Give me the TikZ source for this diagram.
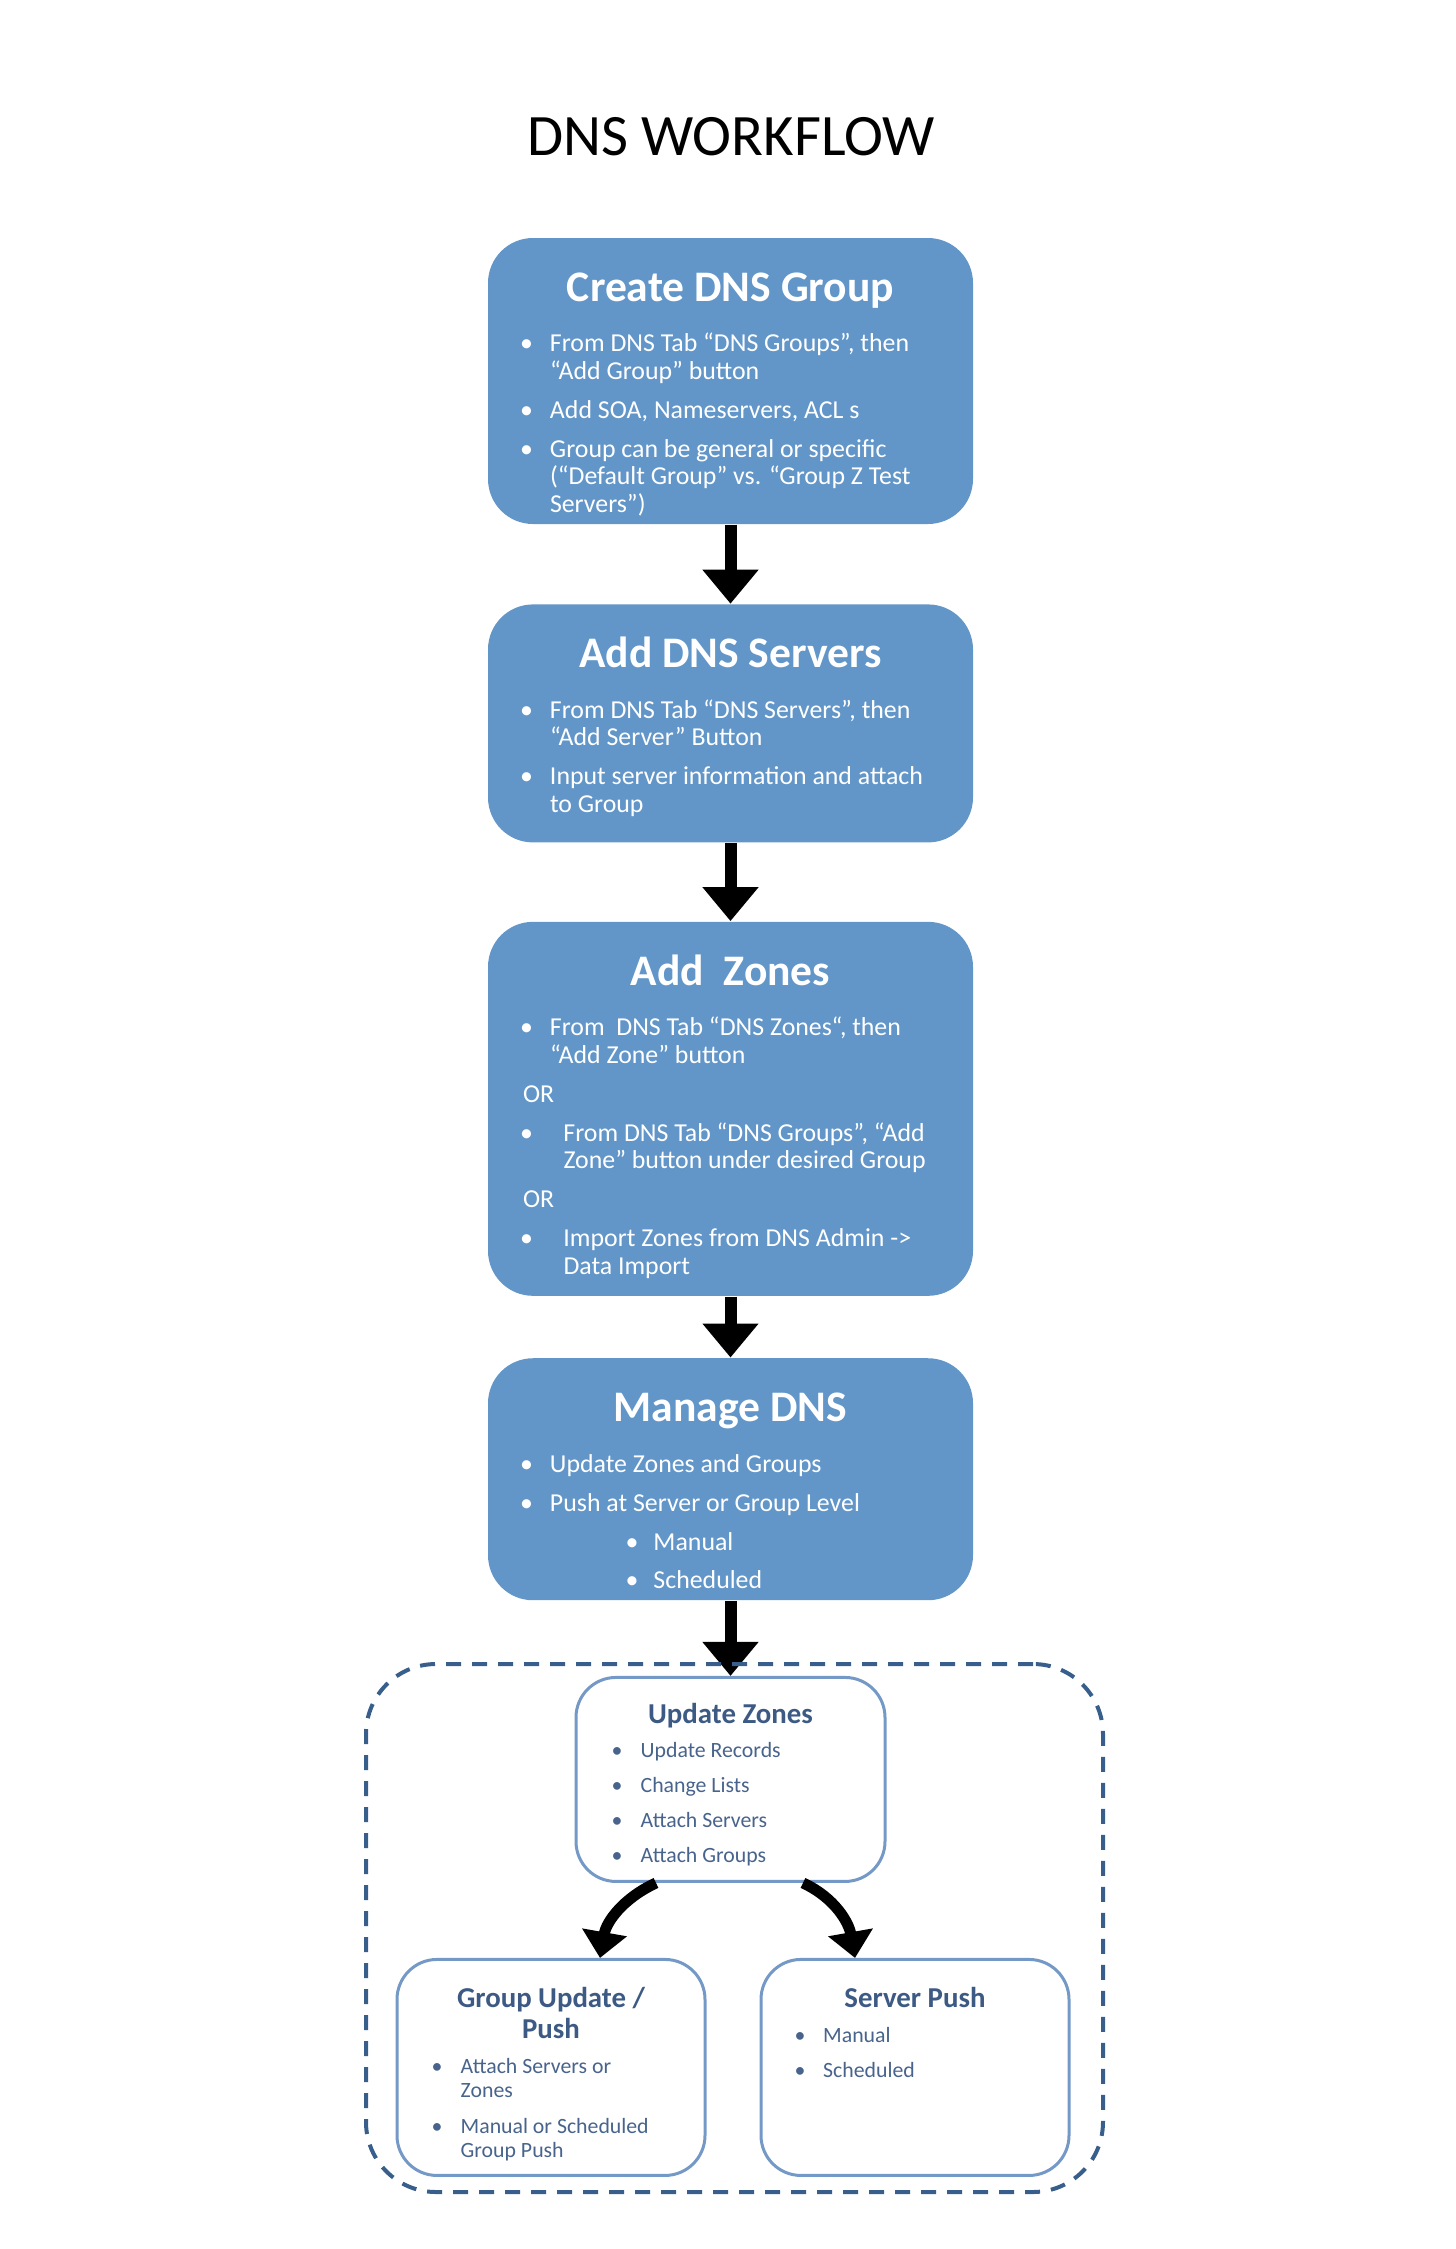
\documentclass[tikz,border=0pt]{standalone}
\usepackage{fontspec}
\setmainfont{Carlito}
\usetikzlibrary{arrows.meta,positioning}
\definecolor{boxblue}{RGB}{98,150,201}
\definecolor{lineblue}{RGB}{116,153,198}
\definecolor{dashblue}{RGB}{56,94,140}
\definecolor{headblue}{RGB}{60,90,132}
\definecolor{itemblue}{RGB}{72,100,140}
\newcommand\bul[1][3.0mm]{\makebox[#1][l]{•}}
\newcommand\cont[1][3.0mm]{\hspace*{#1}}
\tikzset
{
    stepnode/.style = {rectangle, rounded corners=4.5mm, fill=boxblue, minimum width=48.5mm, inner sep=0pt},
    stephead/.style = {anchor=base, inner sep=0pt, text=white, font=\fontsize{12.4}{14}\selectfont\bfseries},
    steptext/.style = {anchor=base west, inner sep=0pt, text=white, font=\fontsize{7.35}{7.82}\selectfont},
    subnode/.style  = {rectangle, rounded corners=4mm, draw=lineblue, line width=0.3mm, fill=white, minimum width=30.8mm, minimum height=21.6mm, inner sep=0pt},
    subhead/.style  = {anchor=base, inner sep=0pt, text=headblue, font=\fontsize{8.2}{8.8}\selectfont\bfseries},
    subtext/.style  = {anchor=base west, inner sep=0pt, text=itemblue, font=\fontsize{6.2}{6.83}\selectfont},
    groupbox/.style = {rectangle, rounded corners=7mm, draw=dashblue, line width=0.4mm, dash pattern=on 1.5mm off 1.1mm, minimum width=73.7mm, minimum height=52.8mm},
    flowarrow/.style = {line width=1.2mm, -{Triangle[width=5.4mm, length=3.4mm]}},
    bentarrow/.style = {line width=1.1mm, -{Triangle[width=4.4mm, length=2.6mm]}}
}

\begin{document}
\begin{tikzpicture}[x=1mm, y=1mm]
   \newcommand\HEADDY{6.4mm}
   \newcommand\TEXTDY{11.45mm}
   \newcommand\TEXTDX{3.2mm}
   \newcommand\GAP{1.15mm}
   \newcommand\SUBGAP{1.1mm}

   \useasboundingbox (0,0) rectangle (145.5,-224.9);

   \node (title) [anchor=base, font=\fontsize{16.7}{20}\selectfont] at (73.1,-15.5) {DNS WORKFLOW};

   % main steps
   \node (b1) [stepnode, minimum height=28.6mm]    at (73.05,-38.1) {};
   \node (b2) [stepnode, minimum height=23.8mm, below=7.9mm of b1] {};
   \node (b3) [stepnode, minimum height=37.4mm, below=7.8mm of b2] {};
   \node (b4) [stepnode, minimum height=24.2mm, below=6.1mm of b3] {};

   \node (h1) [stephead] at ([yshift=-\HEADDY]b1.north) {Create DNS Group};
   \node (t1) [steptext] at ([shift=({\TEXTDX,-\TEXTDY})]b1.north west) {\begin{tabular}[t]{@{}l@{}}
      \bul From DNS Tab “DNS Groups”, then\\
      \cont “Add Group” button\\[\GAP]
      \bul Add SOA, Nameservers, ACL s\\[\GAP]
      \bul Group can be general or specific\\
      \cont (“Default Group” vs. “Group Z Test\\
      \cont Servers”)
   \end{tabular}};

   \node (h2) [stephead] at ([yshift=-\HEADDY]b2.north) {Add DNS Servers};
   \node (t2) [steptext] at ([shift=({\TEXTDX,-\TEXTDY})]b2.north west) {\begin{tabular}[t]{@{}l@{}}
      \bul From DNS Tab “DNS Servers”, then\\
      \cont “Add Server” Button\\[\GAP]
      \bul Input server information and attach\\
      \cont to Group
   \end{tabular}};

   \node (h3) [stephead] at ([yshift=-\HEADDY]b3.north) {Add~~Zones};
   \node (t3) [steptext] at ([shift=({\TEXTDX,-\TEXTDY})]b3.north west) {\begin{tabular}[t]{@{}l@{}}
      \bul From~~DNS Tab “DNS Zones“, then\\
      \cont “Add Zone” button\\[\GAP]
      \hspace*{0.3mm}OR\\[\GAP]
      \bul[4.35mm]From DNS Tab “DNS Groups”, “Add\\
      \cont[4.35mm]Zone” button under desired Group\\[\GAP]
      \hspace*{0.3mm}OR\\[\GAP]
      \bul[4.35mm]Import Zones from DNS Admin ->\\
      \cont[4.35mm]Data Import
   \end{tabular}};

   \node (h4) [stephead] at ([yshift=-\HEADDY]b4.north) {Manage DNS};
   \node (t4) [steptext] at ([shift=({\TEXTDX,-\TEXTDY})]b4.north west) {\begin{tabular}[t]{@{}l@{}}
      \bul Update Zones and Groups\\[\GAP]
      \bul Push at Server or Group Level\\[\GAP]
      \hspace*{10.55mm}\bul[2.8mm]Manual\\[\GAP]
      \hspace*{10.55mm}\bul[2.8mm]Scheduled
   \end{tabular}};

   % push options
   \node (uz) [subnode, minimum width=30.9mm, minimum height=20.4mm, below=7.5mm of b4] {};
   \node (gu) [subnode, anchor=north] at ([shift=({-17.95mm,-7.5mm})]uz.south) {};
   \node (sp) [subnode, anchor=north] at ([shift=({18.45mm,-7.5mm})]uz.south) {};

   \node (uzh) [subhead] at ([yshift=-4.8mm]uz.north) {Update Zones};
   \node (uzt) [subtext] at ([shift=({3.65mm,-8.2mm})]uz.north west) {\begin{tabular}[t]{@{}l@{}}
      \bul[2.9mm]Update Records\\[\SUBGAP]
      \bul[2.9mm]Change Lists\\[\SUBGAP]
      \bul[2.9mm]Attach Servers\\[\SUBGAP]
      \bul[2.9mm]Attach Groups
   \end{tabular}};

   \node (guh) [subhead] at ([yshift=-5mm]gu.north) {\begin{tabular}[t]{@{}c@{}}
      Group Update /\\
      Push
   \end{tabular}};
   \node (gut) [subtext] at ([shift=({3.55mm,-11.6mm})]gu.north west) {\begin{tabular}[t]{@{}l@{}}
      \bul[2.9mm]Attach Servers or\\
      \cont[2.9mm]Zones\\[1.2mm]
      \bul[2.9mm]Manual or Scheduled\\
      \cont[2.9mm]Group Push
   \end{tabular}};

   \node (sph) [subhead] at ([yshift=-5mm]sp.north) {Server Push};
   \node (spt) [subtext] at ([shift=({3.45mm,-8.5mm})]sp.north west) {\begin{tabular}[t]{@{}l@{}}
      \bul[2.85mm]Manual\\[\SUBGAP]
      \bul[2.85mm]Scheduled
   \end{tabular}};

   \path
      (b1.south) edge[flowarrow] (b2.north)
      (b2.south) edge[flowarrow] (b3.north)
      (b3.south) edge[flowarrow] (b4.north)
      (b4.south) edge[flowarrow] (uz.north)
      ([xshift=-7.45mm]uz.south) edge[bentarrow, out=205, in=80]  ([xshift=4.9mm]gu.north)
      ([xshift=7.25mm]uz.south)  edge[bentarrow, out=-25, in=100] ([xshift=-6mm]sp.north);

   \node (grp) [groupbox] at (73.45,-192.8) {};
\end{tikzpicture}
\end{document}
